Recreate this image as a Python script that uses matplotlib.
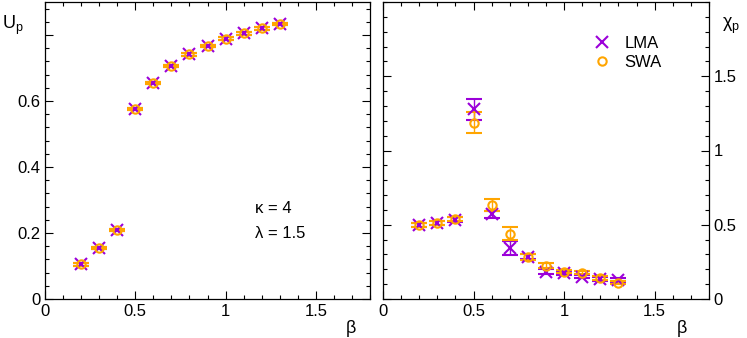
import matplotlib
matplotlib.use('Agg')
import matplotlib.pyplot as plt
from matplotlib.ticker import MultipleLocator, FixedLocator, FixedFormatter

plt.rcParams['font.family'] = ['Liberation Sans', 'DejaVu Sans']

beta = [0.2, 0.3, 0.4, 0.5, 0.6, 0.7, 0.8, 0.9, 1.0, 1.1, 1.2, 1.3]

# plaquette U_p
up_lma = [0.105, 0.155, 0.209, 0.576, 0.655, 0.706, 0.741, 0.767, 0.789, 0.805, 0.820, 0.833]
up_lma_err = [0.004] * 12
up_swa = [0.105, 0.155, 0.209, 0.576, 0.655, 0.706, 0.741, 0.767, 0.789, 0.805, 0.820, 0.833]
up_swa_err = [0.004] * 12

# susceptibility chi_p
chi_lma = [0.50, 0.511, 0.534, 1.277, 0.570, 0.343, 0.286, 0.185, 0.174, 0.151, 0.133, 0.128]
chi_lma_err = [0.012, 0.012, 0.015, 0.07, 0.025, 0.045, 0.02, 0.015, 0.012, 0.012, 0.012, 0.012]
chi_swa = [0.50, 0.51, 0.54, 1.187, 0.635, 0.439, 0.280, 0.225, 0.185, 0.178, 0.140, 0.110]
chi_swa_err = [0.012, 0.012, 0.015, 0.07, 0.04, 0.045, 0.02, 0.015, 0.012, 0.012, 0.012, 0.012]

purple = '#9b00d9'
orange = '#ffa500'

fig = plt.figure(figsize=(7.47, 3.38), dpi=100)
ax1 = fig.add_axes([45 / 747, 39 / 338, 325 / 747, 297 / 338])
ax2 = fig.add_axes([383 / 747, 39 / 338, 326 / 747, 297 / 338])


def draw(ax, y1, e1, y2, e2):
    ax.errorbar(beta, y1, yerr=e1, fmt='x', color=purple, ms=8, mew=1.5,
                capsize=6, elinewidth=1, capthick=1, label='LMA')
    ax.errorbar(beta, y2, yerr=e2, fmt='o', color=orange, mfc='none', ms=6,
                mew=1.5, capsize=6, elinewidth=1, capthick=1, label='SWA')
    ax.set_xlim(0, 1.8)
    ax.xaxis.set_major_locator(FixedLocator([0, 0.5, 1, 1.5]))
    ax.xaxis.set_major_formatter(FixedFormatter(['0', '0.5', '1', '1.5']))
    ax.xaxis.set_minor_locator(MultipleLocator(0.1))
    ax.tick_params(which='both', direction='in', top=True, right=True, left=True,
                   labelsize=12, width=0.8)
    ax.tick_params(which='major', length=6)
    ax.tick_params(which='minor', length=3)
    for s in ax.spines.values():
        s.set_linewidth(0.9)


draw(ax1, up_lma, up_lma_err, up_swa, up_swa_err)
ax1.set_ylim(0, 0.9)
ax1.yaxis.set_major_locator(FixedLocator([0, 0.2, 0.4, 0.6, 0.8]))
ax1.yaxis.set_major_formatter(FixedFormatter(['0', '0.2', '0.4', '0.6', '']))
ax1.yaxis.set_minor_locator(MultipleLocator(0.04))
ax1.text(-0.098, 0.92, 'U$_\\mathregular{p}$', transform=ax1.transAxes, fontsize=13,
         ha='center', va='center')
ax1.text(0.94, -0.098, 'β', transform=ax1.transAxes, fontsize=13, ha='center', va='center')
ax1.text(0.646, 0.306, 'κ = 4', transform=ax1.transAxes, fontsize=12, va='center')
ax1.text(0.646, 0.222, 'λ = 1.5', transform=ax1.transAxes, fontsize=12, va='center')

draw(ax2, chi_lma, chi_lma_err, chi_swa, chi_swa_err)
ax2.set_ylim(0, 2)
ax2.yaxis.set_major_locator(FixedLocator([0, 0.5, 1, 1.5]))
ax2.yaxis.set_major_formatter(FixedFormatter(['0', '0.5', '1', '1.5']))
ax2.yaxis.set_minor_locator(MultipleLocator(0.1))
ax2.tick_params(labelleft=False, labelright=True)
ax2.text(1.067, 0.92, 'χ$_\\mathregular{p}$', transform=ax2.transAxes, fontsize=13,
         ha='center', va='center')
ax2.text(0.917, -0.098, 'β', transform=ax2.transAxes, fontsize=13, ha='center', va='center')

h, l = ax2.get_legend_handles_labels()
h = [x[0] for x in h]
ax2.legend(h, l, loc='upper right', bbox_to_anchor=(0.90, 0.935), frameon=False,
           fontsize=12, handlelength=1.0, handletextpad=0.8, labelspacing=0.2)

fig.savefig('out.png', dpi=100)
